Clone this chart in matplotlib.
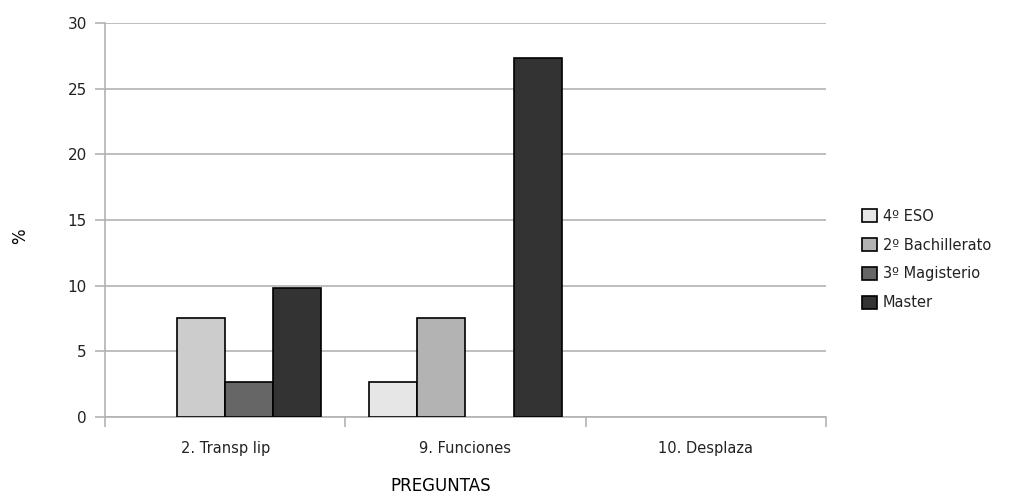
import matplotlib.pyplot as plt
import numpy as np

plt.rcParams['font.family'] = ['DejaVu Sans']

# data (%)
preguntas = ['2. Transp lip', '9. Funciones', '10. Desplaza']
series = ['4º ESO', '2º Bachillerato', '3º Magisterio', 'Master']
eso = [0, 2.65, 0]
bach = [7.55, 7.55, 0]
mag = [2.65, 0, 0]
master = [9.85, 27.3, 0]

values = [eso, bach, mag, master]
colors = ['#e6e6e6', '#b3b3b3', '#666666', '#333333']
# first group's Bachillerato bar is drawn a lighter grey in the original
bar_colors = [[colors[0]] * 3, ['#cccccc', '#b3b3b3', '#b3b3b3'],
              [colors[2]] * 3, [colors[3]] * 3]

fig = plt.figure(figsize=(10.32, 4.97), dpi=100)
ax = fig.add_axes([0.1017, 0.161, 0.6987, 0.7927])

x = np.arange(len(preguntas))
w = 0.2
offsets = [-0.3, -0.1, 0.1, 0.3]
for vals, off, cols, name, c in zip(values, offsets, bar_colors, series, colors):
    vals = np.array(vals, dtype=float)
    # empty bars leave no outline
    lw = [1.2 if v > 0 else 0 for v in vals]
    ax.bar(x + off, vals, w, color=cols, edgecolor='black', linewidth=lw, zorder=3)
    ax.bar([0], [0], 0, color=c, edgecolor='black', linewidth=1.2, label=name)

ax.set_xlim(-0.5, 2.5)
ax.set_ylim(0, 30)
ax.set_yticks(range(0, 31, 5))
ax.yaxis.grid(True, color='#b3b3b3', linewidth=1.2, zorder=0)
ax.set_axisbelow(True)

ax.set_xticks(x)
ax.set_xticklabels(preguntas)
ax.set_xticks([-0.5, 0.5, 1.5, 2.5], minor=True)
ax.tick_params(axis='x', which='major', length=0, pad=17, labelsize=10.5, labelcolor='#222222')
ax.tick_params(axis='x', which='minor', length=7, color='#b3b3b3', width=1.2)
ax.tick_params(axis='y', length=7, color='#b3b3b3', width=1.2, pad=6, labelsize=11, labelcolor='#222222')

for s in ['top', 'right']:
    ax.spines[s].set_visible(False)
for s in ['left', 'bottom']:
    ax.spines[s].set_color('#b3b3b3')
    ax.spines[s].set_linewidth(1.2)

ax.set_ylabel('%', fontsize=12)
ax.yaxis.set_label_coords(-0.105, 0.46)
ax.set_xlabel('PREGUNTAS', fontsize=12)
ax.xaxis.set_label_coords(0.466, -0.152)

fig.legend(loc='center left', bbox_to_anchor=(0.823, 0.478), frameon=False,
           handlelength=1, handleheight=1, handletextpad=0.4,
           labelspacing=0.95, fontsize=10.5, labelcolor='#222222')

fig.savefig('out.png', dpi=100)
